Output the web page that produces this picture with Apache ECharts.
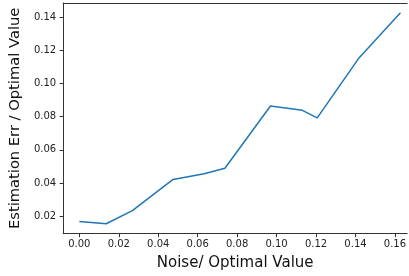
<!DOCTYPE html>
<html>
<head>
<meta charset="utf-8">
<script src="https://cdn.jsdelivr.net/npm/echarts@6/dist/echarts.min.js"></script>
<style>
  html, body { margin: 0; padding: 0; background: #fff; }
  #chart { width: 409px; height: 276px; }
</style>
</head>
<body>
<div id="chart"></div>
<script>
// values
const noise = [0.000, 0.0136, 0.0269, 0.0475, 0.0633, 0.0738, 0.0969, 0.1131, 0.1206, 0.1419, 0.1628]
const estErr = [0.0168, 0.0155, 0.0234, 0.0422, 0.0456, 0.0489, 0.0864, 0.0838, 0.0792, 0.1155, 0.1426]
const xTicks = [0, 0.02, 0.04, 0.06, 0.08, 0.10, 0.12, 0.14, 0.16]
const yTicks = [0.02, 0.04, 0.06, 0.08, 0.10, 0.12, 0.14]

const font = 'DejaVu Sans'
const spine = '#333'

let myChart = echarts.init(document.getElementById('chart'))
myChart.setOption({
  animation: false,
  grid: {
    left: 61.5,
    right: 0,
    top: 3,
    bottom: 42.3
  },
  xAxis: [
    {
      type: 'value',
      min: -0.0082,
      max: 0.1662,
      name: 'Noise/ Optimal Value',
      nameLocation: 'middle',
      nameGap: 22,
      nameTextStyle: { fontFamily: font, fontSize: 15, color: '#111' },
      axisLine: { show: true, lineStyle: { color: spine, width: 1 } },
      axisTick: { show: true, customValues: xTicks, length: 3.5, lineStyle: { color: spine } },
      axisLabel: {
        customValues: xTicks,
        margin: 6,
        fontFamily: font,
        fontSize: 10,
        color: '#222',
        formatter: function (v) { return v.toFixed(2) }
      },
      splitLine: { show: false }
    },
    {
      // top spine only
      type: 'value',
      position: 'top',
      min: -0.0082,
      max: 0.1662,
      axisLine: { show: true, onZero: false, lineStyle: { color: spine, width: 1 } },
      axisTick: { show: false },
      axisLabel: { show: false },
      splitLine: { show: false }
    }
  ],
  yAxis: {
    type: 'value',
    min: 0.0095,
    max: 0.1484,
    name: 'Estimation Err / Optimal Value',
    nameLocation: 'middle',
    nameGap: 32,
    nameTextStyle: { fontFamily: font, fontSize: 14.7, color: '#111' },
    axisLine: { show: true, onZero: false, lineStyle: { color: spine, width: 1 } },
    axisTick: { show: true, customValues: yTicks, length: 3.5, lineStyle: { color: spine } },
    axisLabel: {
      customValues: yTicks,
      margin: 7,
      fontFamily: font,
      fontSize: 10,
      color: '#222',
      formatter: function (v) { return v.toFixed(2) }
    },
    splitLine: { show: false }
  },
  series: [
    {
      type: 'line',
      xAxisIndex: 0,
      data: noise.map((x, i) => [x, estErr[i]]),
      showSymbol: false,
      lineStyle: { color: '#1f77b4', width: 1.5 }
    }
  ]
})
</script>
</body>
</html>
